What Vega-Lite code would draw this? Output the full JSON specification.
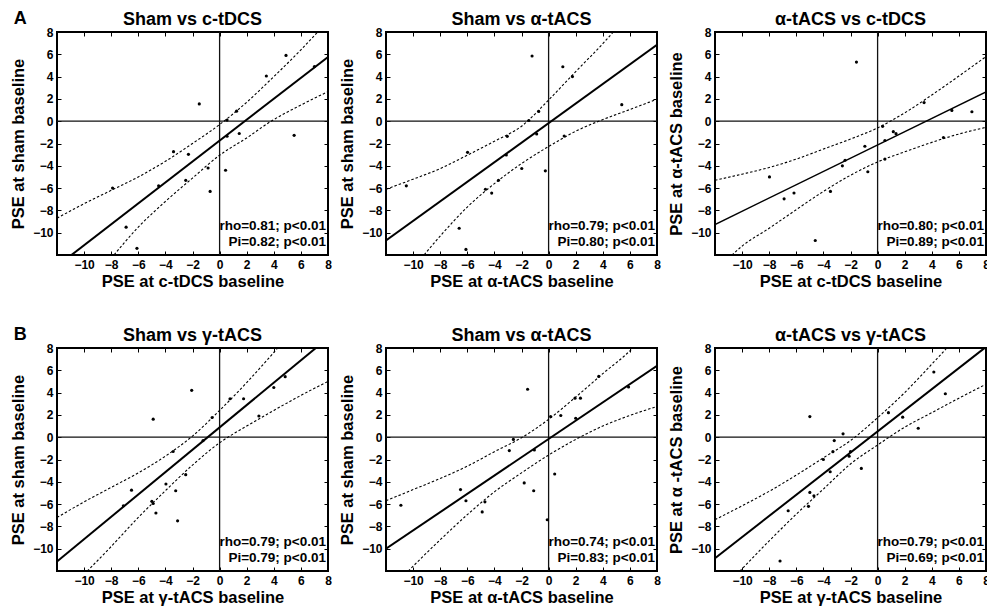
{
"$schema":"https://vega.github.io/schema/vega-lite/v6.json",
"background":"white",
"padding":{"left":9,"top":10,"right":0,"bottom":0},
"spacing":35,
"config":{
 "font":"Liberation Sans",
 "view":{"stroke":"black","strokeWidth":2},
 "axis":{"grid":false,"domain":false,"tickColor":"black","tickSize":-4,"tickWidth":1,"labelPadding":8,"labelFontSize":12,"labelFontWeight":"bold","labelColor":"black","titleFontSize":16.5,"titleFontWeight":"bold","titleColor":"black","labelFlush":false,"labelOverlap":false},
 "axisX":{"titlePadding":3},
 "axisY":{"titlePadding":6},
 "title":{"fontSize":18,"fontWeight":"bold","color":"black","offset":-3}
},
"datasets":{
 "stats":[
  {"panel":"A1","rho":"rho=0.81; p<0.01","pi":"Pi=0.82; p<0.01"},
  {"panel":"A2","rho":"rho=0.79; p<0.01","pi":"Pi=0.80; p<0.01"},
  {"panel":"A3","rho":"rho=0.80; p<0.01","pi":"Pi=0.89; p<0.01"},
  {"panel":"B1","rho":"rho=0.79; p<0.01","pi":"Pi=0.79; p<0.01"},
  {"panel":"B2","rho":"rho=0.74; p<0.01","pi":"Pi=0.83; p<0.01"},
  {"panel":"B3","rho":"rho=0.79; p<0.01","pi":"Pi=0.69; p<0.01"}
 ],
 "fit":[
  {"panel":"A1","x":-12,"y":-13.0},{"panel":"A1","x":8,"y":5.76},
  {"panel":"A2","x":-12,"y":-10.7},{"panel":"A2","x":8,"y":6.85},
  {"panel":"A3","x":-12,"y":-9.27},{"panel":"A3","x":8,"y":2.63},
  {"panel":"B1","x":-12,"y":-11.15},{"panel":"B1","x":8,"y":8.9},
  {"panel":"B2","x":-12,"y":-10.0},{"panel":"B2","x":8,"y":6.4},
  {"panel":"B3","x":-12,"y":-10.85},{"panel":"B3","x":8,"y":8.1}
 ],
 "pts":[
  {"panel":"A1","x":4.9,"y":5.9},{"panel":"A1","x":7.0,"y":4.9},{"panel":"A1","x":3.45,"y":4.05},{"panel":"A1","x":-1.5,"y":1.55},{"panel":"A1","x":1.25,"y":0.9},{"panel":"A1","x":0.55,"y":0.1},{"panel":"A1","x":0.55,"y":-1.35},{"panel":"A1","x":1.45,"y":-1.1},{"panel":"A1","x":5.5,"y":-1.27},{"panel":"A1","x":-3.4,"y":-2.73},{"panel":"A1","x":-2.3,"y":-2.97},{"panel":"A1","x":-0.85,"y":-4.2},{"panel":"A1","x":0.44,"y":-4.4},{"panel":"A1","x":-4.5,"y":-5.8},{"panel":"A1","x":-2.5,"y":-5.3},{"panel":"A1","x":-7.9,"y":-6.0},{"panel":"A1","x":-0.7,"y":-6.3},{"panel":"A1","x":-6.9,"y":-9.5},{"panel":"A1","x":-6.1,"y":-11.4},
  {"panel":"A2","x":-1.22,"y":5.85},{"panel":"A2","x":1.05,"y":4.88},{"panel":"A2","x":1.76,"y":4.0},{"panel":"A2","x":5.4,"y":1.48},{"panel":"A2","x":-0.73,"y":0.88},{"panel":"A2","x":-1.46,"y":0.06},{"panel":"A2","x":-0.88,"y":-1.15},{"panel":"A2","x":1.15,"y":-1.33},{"panel":"A2","x":-3.05,"y":-1.36},{"panel":"A2","x":-5.98,"y":-2.79},{"panel":"A2","x":-3.12,"y":-3.03},{"panel":"A2","x":-1.98,"y":-4.24},{"panel":"A2","x":-0.24,"y":-4.45},{"panel":"A2","x":-3.7,"y":-5.3},{"panel":"A2","x":-4.66,"y":-6.1},{"panel":"A2","x":-4.2,"y":-6.45},{"panel":"A2","x":-10.5,"y":-5.8},{"panel":"A2","x":-6.6,"y":-9.6},{"panel":"A2","x":-6.1,"y":-11.5},
  {"panel":"A3","x":-1.56,"y":5.3},{"panel":"A3","x":3.43,"y":1.67},{"panel":"A3","x":5.48,"y":0.97},{"panel":"A3","x":6.96,"y":0.85},{"panel":"A3","x":0.37,"y":-0.46},{"panel":"A3","x":1.16,"y":-0.94},{"panel":"A3","x":1.36,"y":-1.12},{"panel":"A3","x":0.54,"y":-1.73},{"panel":"A3","x":4.86,"y":-1.46},{"panel":"A3","x":-0.94,"y":-2.25},{"panel":"A3","x":0.54,"y":-3.4},{"panel":"A3","x":-2.4,"y":-3.5},{"panel":"A3","x":-2.6,"y":-4.0},{"panel":"A3","x":-0.72,"y":-4.53},{"panel":"A3","x":-3.48,"y":-6.3},{"panel":"A3","x":-6.17,"y":-6.44},{"panel":"A3","x":-6.9,"y":-6.96},{"panel":"A3","x":-7.98,"y":-5.0},{"panel":"A3","x":-4.6,"y":-10.7},
  {"panel":"B1","x":4.84,"y":5.43},{"panel":"B1","x":4.0,"y":4.46},{"panel":"B1","x":-2.06,"y":4.2},{"panel":"B1","x":0.77,"y":3.45},{"panel":"B1","x":1.77,"y":3.45},{"panel":"B1","x":-4.9,"y":1.62},{"panel":"B1","x":-0.55,"y":1.77},{"panel":"B1","x":2.9,"y":1.9},{"panel":"B1","x":-1.22,"y":-0.3},{"panel":"B1","x":-3.43,"y":-1.28},{"panel":"B1","x":-2.5,"y":-3.36},{"panel":"B1","x":-3.96,"y":-4.2},{"panel":"B1","x":-3.24,"y":-4.8},{"panel":"B1","x":-6.5,"y":-4.75},{"panel":"B1","x":-5.0,"y":-5.75},{"panel":"B1","x":-4.9,"y":-5.95},{"panel":"B1","x":-7.1,"y":-6.15},{"panel":"B1","x":-4.7,"y":-6.8},{"panel":"B1","x":-3.1,"y":-7.5},
  {"panel":"B2","x":-1.55,"y":4.3},{"panel":"B2","x":1.95,"y":3.5},{"panel":"B2","x":2.35,"y":3.5},{"panel":"B2","x":3.7,"y":5.45},{"panel":"B2","x":0.15,"y":1.85},{"panel":"B2","x":0.9,"y":1.95},{"panel":"B2","x":2.0,"y":1.7},{"panel":"B2","x":5.9,"y":4.5},{"panel":"B2","x":-2.6,"y":-0.2},{"panel":"B2","x":-2.9,"y":-1.2},{"panel":"B2","x":-1.05,"y":-1.15},{"panel":"B2","x":0.45,"y":-3.3},{"panel":"B2","x":-1.8,"y":-4.1},{"panel":"B2","x":-1.1,"y":-4.8},{"panel":"B2","x":-6.5,"y":-4.7},{"panel":"B2","x":-6.1,"y":-5.7},{"panel":"B2","x":-4.7,"y":-5.8},{"panel":"B2","x":-4.9,"y":-6.7},{"panel":"B2","x":-10.9,"y":-6.1},{"panel":"B2","x":-0.1,"y":-7.4},
  {"panel":"B3","x":4.15,"y":5.85},{"panel":"B3","x":5.0,"y":3.9},{"panel":"B3","x":-5.0,"y":1.85},{"panel":"B3","x":0.8,"y":2.2},{"panel":"B3","x":1.85,"y":1.8},{"panel":"B3","x":3.0,"y":0.8},{"panel":"B3","x":-2.55,"y":0.3},{"panel":"B3","x":-3.2,"y":-0.3},{"panel":"B3","x":-3.3,"y":-1.3},{"panel":"B3","x":-2.0,"y":-1.3},{"panel":"B3","x":-2.1,"y":-1.7},{"panel":"B3","x":-4.0,"y":-2.0},{"panel":"B3","x":-3.5,"y":-3.1},{"panel":"B3","x":-1.2,"y":-2.8},{"panel":"B3","x":-5.0,"y":-4.95},{"panel":"B3","x":-4.7,"y":-5.25},{"panel":"B3","x":-5.1,"y":-6.2},{"panel":"B3","x":-6.6,"y":-6.6},{"panel":"B3","x":-7.2,"y":-11.1}
 ],
 "band":[
  {"panel":"A1","side":"u","x":-12,"y":-8.7},{"panel":"A1","side":"u","x":-10,"y":-7.4},{"panel":"A1","side":"u","x":-8,"y":-6.2},{"panel":"A1","side":"u","x":-6,"y":-5.0},{"panel":"A1","side":"u","x":-4,"y":-3.6},{"panel":"A1","side":"u","x":-2,"y":-2.0},{"panel":"A1","side":"u","x":0,"y":-0.3},{"panel":"A1","side":"u","x":2,"y":1.7},{"panel":"A1","side":"u","x":4,"y":4.0},{"panel":"A1","side":"u","x":6,"y":6.4},{"panel":"A1","side":"u","x":7.2,"y":7.95},{"panel":"A1","side":"u","x":8,"y":9.0},
  {"panel":"A1","side":"l","x":-8,"y":-12.3},{"panel":"A1","side":"l","x":-6,"y":-9.5},{"panel":"A1","side":"l","x":-4,"y":-7.2},{"panel":"A1","side":"l","x":-2,"y":-5.1},{"panel":"A1","side":"l","x":0,"y":-3.05},{"panel":"A1","side":"l","x":2,"y":-1.5},{"panel":"A1","side":"l","x":3.8,"y":0},{"panel":"A1","side":"l","x":6,"y":1.45},{"panel":"A1","side":"l","x":8,"y":2.65},
  {"panel":"A2","side":"u","x":-12,"y":-6.1},{"panel":"A2","side":"u","x":-10,"y":-5.2},{"panel":"A2","side":"u","x":-8,"y":-4.25},{"panel":"A2","side":"u","x":-6,"y":-3.05},{"panel":"A2","side":"u","x":-4,"y":-1.8},{"panel":"A2","side":"u","x":-2,"y":-0.45},{"panel":"A2","side":"u","x":0,"y":1.9},{"panel":"A2","side":"u","x":2,"y":4.45},{"panel":"A2","side":"u","x":4,"y":6.95},{"panel":"A2","side":"u","x":4.7,"y":7.9},{"panel":"A2","side":"u","x":5.2,"y":8.6},
  {"panel":"A2","side":"l","x":-9.4,"y":-12.3},{"panel":"A2","side":"l","x":-8,"y":-10.3},{"panel":"A2","side":"l","x":-6,"y":-7.7},{"panel":"A2","side":"l","x":-4,"y":-5.6},{"panel":"A2","side":"l","x":-2,"y":-3.8},{"panel":"A2","side":"l","x":0,"y":-2.27},{"panel":"A2","side":"l","x":2,"y":-0.9},{"panel":"A2","side":"l","x":3.7,"y":0},{"panel":"A2","side":"l","x":6,"y":1.05},{"panel":"A2","side":"l","x":8,"y":1.97},
  {"panel":"A3","side":"u","x":-12,"y":-5.3},{"panel":"A3","side":"u","x":-10,"y":-4.75},{"panel":"A3","side":"u","x":-8,"y":-4.15},{"panel":"A3","side":"u","x":-6,"y":-3.4},{"panel":"A3","side":"u","x":-4,"y":-2.5},{"panel":"A3","side":"u","x":-2,"y":-1.6},{"panel":"A3","side":"u","x":0,"y":-0.6},{"panel":"A3","side":"u","x":2,"y":0.75},{"panel":"A3","side":"u","x":4,"y":2.35},{"panel":"A3","side":"u","x":6,"y":4.05},{"panel":"A3","side":"u","x":8,"y":5.8},
  {"panel":"A3","side":"l","x":-11,"y":-12.3},{"panel":"A3","side":"l","x":-10,"y":-11.2},{"panel":"A3","side":"l","x":-8,"y":-9.6},{"panel":"A3","side":"l","x":-6.5,"y":-8.35},{"panel":"A3","side":"l","x":-4,"y":-6.3},{"panel":"A3","side":"l","x":-2,"y":-4.85},{"panel":"A3","side":"l","x":0,"y":-3.65},{"panel":"A3","side":"l","x":2,"y":-2.75},{"panel":"A3","side":"l","x":4,"y":-1.9},{"panel":"A3","side":"l","x":6,"y":-1.15},{"panel":"A3","side":"l","x":8,"y":-0.55},
  {"panel":"B1","side":"u","x":-12,"y":-7.2},{"panel":"B1","side":"u","x":-10,"y":-5.8},{"panel":"B1","side":"u","x":-8,"y":-4.5},{"panel":"B1","side":"u","x":-6,"y":-3.2},{"panel":"B1","side":"u","x":-4,"y":-1.7},{"panel":"B1","side":"u","x":-2,"y":0.1},{"panel":"B1","side":"u","x":0,"y":2.4},{"panel":"B1","side":"u","x":2,"y":4.9},{"panel":"B1","side":"u","x":4,"y":7.6},{"panel":"B1","side":"u","x":4.5,"y":8.3},
  {"panel":"B1","side":"l","x":-10,"y":-12.3},{"panel":"B1","side":"l","x":-8,"y":-9.8},{"panel":"B1","side":"l","x":-6,"y":-7.2},{"panel":"B1","side":"l","x":-4,"y":-4.8},{"panel":"B1","side":"l","x":-2,"y":-2.5},{"panel":"B1","side":"l","x":0,"y":-0.5},{"panel":"B1","side":"l","x":2,"y":1.0},{"panel":"B1","side":"l","x":4,"y":2.4},{"panel":"B1","side":"l","x":6,"y":3.75},{"panel":"B1","side":"l","x":8,"y":5.0},
  {"panel":"B2","side":"u","x":-12,"y":-5.7},{"panel":"B2","side":"u","x":-10,"y":-4.7},{"panel":"B2","side":"u","x":-8,"y":-3.7},{"panel":"B2","side":"u","x":-6,"y":-2.6},{"panel":"B2","side":"u","x":-4,"y":-1.3},{"panel":"B2","side":"u","x":-2,"y":-0.05},{"panel":"B2","side":"u","x":0,"y":1.6},{"panel":"B2","side":"u","x":2,"y":3.6},{"panel":"B2","side":"u","x":4,"y":5.7},{"panel":"B2","side":"u","x":6.2,"y":8.0},{"panel":"B2","side":"u","x":6.5,"y":8.4},
  {"panel":"B2","side":"l","x":-10.6,"y":-12.3},{"panel":"B2","side":"l","x":-8,"y":-9.2},{"panel":"B2","side":"l","x":-6,"y":-6.95},{"panel":"B2","side":"l","x":-4,"y":-4.9},{"panel":"B2","side":"l","x":-2,"y":-3.2},{"panel":"B2","side":"l","x":0,"y":-1.6},{"panel":"B2","side":"l","x":2,"y":-0.2},{"panel":"B2","side":"l","x":4,"y":1.0},{"panel":"B2","side":"l","x":6,"y":1.95},{"panel":"B2","side":"l","x":8,"y":2.75},
  {"panel":"B3","side":"u","x":-12,"y":-7.4},{"panel":"B3","side":"u","x":-10,"y":-6.15},{"panel":"B3","side":"u","x":-8,"y":-4.85},{"panel":"B3","side":"u","x":-6,"y":-3.4},{"panel":"B3","side":"u","x":-4,"y":-1.85},{"panel":"B3","side":"u","x":-2,"y":-0.3},{"panel":"B3","side":"u","x":0,"y":1.75},{"panel":"B3","side":"u","x":2,"y":4.0},{"panel":"B3","side":"u","x":4,"y":6.55},{"panel":"B3","side":"u","x":5.1,"y":8.0},{"panel":"B3","side":"u","x":5.5,"y":8.6},
  {"panel":"B3","side":"l","x":-10.4,"y":-12.3},{"panel":"B3","side":"l","x":-8,"y":-9.3},{"panel":"B3","side":"l","x":-6,"y":-6.9},{"panel":"B3","side":"l","x":-4,"y":-4.65},{"panel":"B3","side":"l","x":-2,"y":-2.4},{"panel":"B3","side":"l","x":0,"y":-0.7},{"panel":"B3","side":"l","x":2,"y":0.9},{"panel":"B3","side":"l","x":4,"y":2.2},{"panel":"B3","side":"l","x":6,"y":3.5},{"panel":"B3","side":"l","x":8,"y":4.75}
 ]
},
"vconcat":[
 {"hconcat":[
  {"width":271,"height":223,"title":"Sham vs c-tDCS","resolve":{"axis":{"x":"independent","y":"independent"}},
   "layer":[
    {"data":{"name":"stats"},"transform":[{"filter":"datum.panel==='A1'"}],"mark":{"type":"rule","color":"#111","strokeWidth":1.3},"encoding":{"x":{"datum":0,"type":"quantitative","scale":{"domain":[-12,8],"nice":false,"zero":false},"axis":null}}},
    {"data":{"name":"stats"},"transform":[{"filter":"datum.panel==='A1'"}],"mark":{"type":"rule","color":"#111","strokeWidth":1.3},"encoding":{"y":{"datum":0,"type":"quantitative","scale":{"domain":[-12,8],"nice":false,"zero":false},"axis":null}}},
    {"data":{"name":"band"},"transform":[{"filter":"datum.panel==='A1'"}],"mark":{"type":"line","clip":true,"color":"black","strokeWidth":1.1,"strokeDash":[2.5,2],"interpolate":"monotone"},
     "encoding":{"x":{"field":"x","type":"quantitative","scale":{"domain":[-12,8],"nice":false,"zero":false},"axis":{"orient":"bottom","title":"PSE at c-tDCS baseline","values":[-10,-8,-6,-4,-2,0,2,4,6,8]}},
      "y":{"field":"y","type":"quantitative","scale":{"domain":[-12,8],"nice":false,"zero":false},"axis":{"orient":"left","title":"PSE at sham baseline","values":[-10,-8,-6,-4,-2,0,2,4,6,8]}},"detail":{"field":"side"}}},
    {"data":{"name":"fit"},"transform":[{"filter":"datum.panel==='A1'"}],"mark":{"type":"line","clip":true,"color":"black","strokeWidth":2},
     "encoding":{"x":{"field":"x","type":"quantitative","scale":{"domain":[-12,8],"nice":false,"zero":false},"axis":{"orient":"top","labels":false,"title":null,"values":[-10,-8,-6,-4,-2,0,2,4,6,8]}},
      "y":{"field":"y","type":"quantitative","scale":{"domain":[-12,8],"nice":false,"zero":false},"axis":{"orient":"right","labels":false,"title":null,"values":[-10,-8,-6,-4,-2,0,2,4,6,8]}}}},
    {"data":{"name":"pts"},"transform":[{"filter":"datum.panel==='A1'"}],"mark":{"type":"circle","clip":true,"color":"black","size":10,"opacity":1},
     "encoding":{"x":{"field":"x","type":"quantitative","scale":{"domain":[-12,8],"nice":false,"zero":false},"axis":null},"y":{"field":"y","type":"quantitative","scale":{"domain":[-12,8],"nice":false,"zero":false},"axis":null}}},
    {"data":{"name":"stats"},"transform":[{"filter":"datum.panel==='A1'"}],"mark":{"type":"text","align":"right","baseline":"middle","dx":-2,"fontSize":13.5,"fontWeight":"bold","color":"black"},
     "encoding":{"x":{"datum":8,"type":"quantitative","scale":{"domain":[-12,8],"nice":false,"zero":false},"axis":null},"y":{"datum":-9.4,"type":"quantitative","scale":{"domain":[-12,8],"nice":false,"zero":false},"axis":null},"text":{"field":"rho"}}},
    {"data":{"name":"stats"},"transform":[{"filter":"datum.panel==='A1'"}],"mark":{"type":"text","align":"right","baseline":"middle","dx":-2,"fontSize":13.5,"fontWeight":"bold","color":"black"},
     "encoding":{"x":{"datum":8,"type":"quantitative","scale":{"domain":[-12,8],"nice":false,"zero":false},"axis":null},"y":{"datum":-10.8,"type":"quantitative","scale":{"domain":[-12,8],"nice":false,"zero":false},"axis":null},"text":{"field":"pi"}}}
   ]},
  {"width":271,"height":223,"title":"Sham vs α-tACS","resolve":{"axis":{"x":"independent","y":"independent"}},
   "layer":[
    {"data":{"name":"stats"},"transform":[{"filter":"datum.panel==='A2'"}],"mark":{"type":"rule","color":"#111","strokeWidth":1.3},"encoding":{"x":{"datum":0,"type":"quantitative","scale":{"domain":[-12,8],"nice":false,"zero":false},"axis":null}}},
    {"data":{"name":"stats"},"transform":[{"filter":"datum.panel==='A2'"}],"mark":{"type":"rule","color":"#111","strokeWidth":1.3},"encoding":{"y":{"datum":0,"type":"quantitative","scale":{"domain":[-12,8],"nice":false,"zero":false},"axis":null}}},
    {"data":{"name":"band"},"transform":[{"filter":"datum.panel==='A2'"}],"mark":{"type":"line","clip":true,"color":"black","strokeWidth":1.1,"strokeDash":[2.5,2],"interpolate":"monotone"},
     "encoding":{"x":{"field":"x","type":"quantitative","scale":{"domain":[-12,8],"nice":false,"zero":false},"axis":{"orient":"bottom","title":"PSE at α-tACS baseline","values":[-10,-8,-6,-4,-2,0,2,4,6,8]}},
      "y":{"field":"y","type":"quantitative","scale":{"domain":[-12,8],"nice":false,"zero":false},"axis":{"orient":"left","title":"PSE at sham baseline","values":[-10,-8,-6,-4,-2,0,2,4,6,8]}},"detail":{"field":"side"}}},
    {"data":{"name":"fit"},"transform":[{"filter":"datum.panel==='A2'"}],"mark":{"type":"line","clip":true,"color":"black","strokeWidth":2},
     "encoding":{"x":{"field":"x","type":"quantitative","scale":{"domain":[-12,8],"nice":false,"zero":false},"axis":{"orient":"top","labels":false,"title":null,"values":[-10,-8,-6,-4,-2,0,2,4,6,8]}},
      "y":{"field":"y","type":"quantitative","scale":{"domain":[-12,8],"nice":false,"zero":false},"axis":{"orient":"right","labels":false,"title":null,"values":[-10,-8,-6,-4,-2,0,2,4,6,8]}}}},
    {"data":{"name":"pts"},"transform":[{"filter":"datum.panel==='A2'"}],"mark":{"type":"circle","clip":true,"color":"black","size":10,"opacity":1},
     "encoding":{"x":{"field":"x","type":"quantitative","scale":{"domain":[-12,8],"nice":false,"zero":false},"axis":null},"y":{"field":"y","type":"quantitative","scale":{"domain":[-12,8],"nice":false,"zero":false},"axis":null}}},
    {"data":{"name":"stats"},"transform":[{"filter":"datum.panel==='A2'"}],"mark":{"type":"text","align":"right","baseline":"middle","dx":-2,"fontSize":13.5,"fontWeight":"bold","color":"black"},
     "encoding":{"x":{"datum":8,"type":"quantitative","scale":{"domain":[-12,8],"nice":false,"zero":false},"axis":null},"y":{"datum":-9.4,"type":"quantitative","scale":{"domain":[-12,8],"nice":false,"zero":false},"axis":null},"text":{"field":"rho"}}},
    {"data":{"name":"stats"},"transform":[{"filter":"datum.panel==='A2'"}],"mark":{"type":"text","align":"right","baseline":"middle","dx":-2,"fontSize":13.5,"fontWeight":"bold","color":"black"},
     "encoding":{"x":{"datum":8,"type":"quantitative","scale":{"domain":[-12,8],"nice":false,"zero":false},"axis":null},"y":{"datum":-10.8,"type":"quantitative","scale":{"domain":[-12,8],"nice":false,"zero":false},"axis":null},"text":{"field":"pi"}}}
   ]},
  {"width":271,"height":223,"title":"α-tACS vs c-tDCS","resolve":{"axis":{"x":"independent","y":"independent"}},
   "layer":[
    {"data":{"name":"stats"},"transform":[{"filter":"datum.panel==='A3'"}],"mark":{"type":"rule","color":"#111","strokeWidth":1.3},"encoding":{"x":{"datum":0,"type":"quantitative","scale":{"domain":[-12,8],"nice":false,"zero":false},"axis":null}}},
    {"data":{"name":"stats"},"transform":[{"filter":"datum.panel==='A3'"}],"mark":{"type":"rule","color":"#111","strokeWidth":1.3},"encoding":{"y":{"datum":0,"type":"quantitative","scale":{"domain":[-12,8],"nice":false,"zero":false},"axis":null}}},
    {"data":{"name":"band"},"transform":[{"filter":"datum.panel==='A3'"}],"mark":{"type":"line","clip":true,"color":"black","strokeWidth":1.1,"strokeDash":[2.5,2],"interpolate":"monotone"},
     "encoding":{"x":{"field":"x","type":"quantitative","scale":{"domain":[-12,8],"nice":false,"zero":false},"axis":{"orient":"bottom","title":"PSE at c-tDCS baseline","values":[-10,-8,-6,-4,-2,0,2,4,6,8]}},
      "y":{"field":"y","type":"quantitative","scale":{"domain":[-12,8],"nice":false,"zero":false},"axis":{"orient":"left","title":"PSE at α-tACS baseline","values":[-10,-8,-6,-4,-2,0,2,4,6,8]}},"detail":{"field":"side"}}},
    {"data":{"name":"fit"},"transform":[{"filter":"datum.panel==='A3'"}],"mark":{"type":"line","clip":true,"color":"black","strokeWidth":1.4},
     "encoding":{"x":{"field":"x","type":"quantitative","scale":{"domain":[-12,8],"nice":false,"zero":false},"axis":{"orient":"top","labels":false,"title":null,"values":[-10,-8,-6,-4,-2,0,2,4,6,8]}},
      "y":{"field":"y","type":"quantitative","scale":{"domain":[-12,8],"nice":false,"zero":false},"axis":{"orient":"right","labels":false,"title":null,"values":[-10,-8,-6,-4,-2,0,2,4,6,8]}}}},
    {"data":{"name":"pts"},"transform":[{"filter":"datum.panel==='A3'"}],"mark":{"type":"circle","clip":true,"color":"black","size":10,"opacity":1},
     "encoding":{"x":{"field":"x","type":"quantitative","scale":{"domain":[-12,8],"nice":false,"zero":false},"axis":null},"y":{"field":"y","type":"quantitative","scale":{"domain":[-12,8],"nice":false,"zero":false},"axis":null}}},
    {"data":{"name":"stats"},"transform":[{"filter":"datum.panel==='A3'"}],"mark":{"type":"text","align":"right","baseline":"middle","dx":-2,"fontSize":13.5,"fontWeight":"bold","color":"black"},
     "encoding":{"x":{"datum":8,"type":"quantitative","scale":{"domain":[-12,8],"nice":false,"zero":false},"axis":null},"y":{"datum":-9.4,"type":"quantitative","scale":{"domain":[-12,8],"nice":false,"zero":false},"axis":null},"text":{"field":"rho"}}},
    {"data":{"name":"stats"},"transform":[{"filter":"datum.panel==='A3'"}],"mark":{"type":"text","align":"right","baseline":"middle","dx":-2,"fontSize":13.5,"fontWeight":"bold","color":"black"},
     "encoding":{"x":{"datum":8,"type":"quantitative","scale":{"domain":[-12,8],"nice":false,"zero":false},"axis":null},"y":{"datum":-10.8,"type":"quantitative","scale":{"domain":[-12,8],"nice":false,"zero":false},"axis":null},"text":{"field":"pi"}}}
   ]}
 ],"spacing":58,"bounds":"flush","title":{"text":"A","anchor":"start","frame":"bounds","offset":-18,"dx":4,"fontSize":18}},
 {"hconcat":[
  {"width":271,"height":223,"title":"Sham vs γ-tACS","resolve":{"axis":{"x":"independent","y":"independent"}},
   "layer":[
    {"data":{"name":"stats"},"transform":[{"filter":"datum.panel==='B1'"}],"mark":{"type":"rule","color":"#111","strokeWidth":1.3},"encoding":{"x":{"datum":0,"type":"quantitative","scale":{"domain":[-12,8],"nice":false,"zero":false},"axis":null}}},
    {"data":{"name":"stats"},"transform":[{"filter":"datum.panel==='B1'"}],"mark":{"type":"rule","color":"#111","strokeWidth":1.3},"encoding":{"y":{"datum":0,"type":"quantitative","scale":{"domain":[-12,8],"nice":false,"zero":false},"axis":null}}},
    {"data":{"name":"band"},"transform":[{"filter":"datum.panel==='B1'"}],"mark":{"type":"line","clip":true,"color":"black","strokeWidth":1.1,"strokeDash":[2.5,2],"interpolate":"monotone"},
     "encoding":{"x":{"field":"x","type":"quantitative","scale":{"domain":[-12,8],"nice":false,"zero":false},"axis":{"orient":"bottom","title":"PSE at γ-tACS baseline","values":[-10,-8,-6,-4,-2,0,2,4,6,8]}},
      "y":{"field":"y","type":"quantitative","scale":{"domain":[-12,8],"nice":false,"zero":false},"axis":{"orient":"left","title":"PSE at sham baseline","values":[-10,-8,-6,-4,-2,0,2,4,6,8]}},"detail":{"field":"side"}}},
    {"data":{"name":"fit"},"transform":[{"filter":"datum.panel==='B1'"}],"mark":{"type":"line","clip":true,"color":"black","strokeWidth":2},
     "encoding":{"x":{"field":"x","type":"quantitative","scale":{"domain":[-12,8],"nice":false,"zero":false},"axis":{"orient":"top","labels":false,"title":null,"values":[-10,-8,-6,-4,-2,0,2,4,6,8]}},
      "y":{"field":"y","type":"quantitative","scale":{"domain":[-12,8],"nice":false,"zero":false},"axis":{"orient":"right","labels":false,"title":null,"values":[-10,-8,-6,-4,-2,0,2,4,6,8]}}}},
    {"data":{"name":"pts"},"transform":[{"filter":"datum.panel==='B1'"}],"mark":{"type":"circle","clip":true,"color":"black","size":10,"opacity":1},
     "encoding":{"x":{"field":"x","type":"quantitative","scale":{"domain":[-12,8],"nice":false,"zero":false},"axis":null},"y":{"field":"y","type":"quantitative","scale":{"domain":[-12,8],"nice":false,"zero":false},"axis":null}}},
    {"data":{"name":"stats"},"transform":[{"filter":"datum.panel==='B1'"}],"mark":{"type":"text","align":"right","baseline":"middle","dx":-2,"fontSize":13.5,"fontWeight":"bold","color":"black"},
     "encoding":{"x":{"datum":8,"type":"quantitative","scale":{"domain":[-12,8],"nice":false,"zero":false},"axis":null},"y":{"datum":-9.4,"type":"quantitative","scale":{"domain":[-12,8],"nice":false,"zero":false},"axis":null},"text":{"field":"rho"}}},
    {"data":{"name":"stats"},"transform":[{"filter":"datum.panel==='B1'"}],"mark":{"type":"text","align":"right","baseline":"middle","dx":-2,"fontSize":13.5,"fontWeight":"bold","color":"black"},
     "encoding":{"x":{"datum":8,"type":"quantitative","scale":{"domain":[-12,8],"nice":false,"zero":false},"axis":null},"y":{"datum":-10.8,"type":"quantitative","scale":{"domain":[-12,8],"nice":false,"zero":false},"axis":null},"text":{"field":"pi"}}}
   ]},
  {"width":271,"height":223,"title":"Sham vs α-tACS","resolve":{"axis":{"x":"independent","y":"independent"}},
   "layer":[
    {"data":{"name":"stats"},"transform":[{"filter":"datum.panel==='B2'"}],"mark":{"type":"rule","color":"#111","strokeWidth":1.3},"encoding":{"x":{"datum":0,"type":"quantitative","scale":{"domain":[-12,8],"nice":false,"zero":false},"axis":null}}},
    {"data":{"name":"stats"},"transform":[{"filter":"datum.panel==='B2'"}],"mark":{"type":"rule","color":"#111","strokeWidth":1.3},"encoding":{"y":{"datum":0,"type":"quantitative","scale":{"domain":[-12,8],"nice":false,"zero":false},"axis":null}}},
    {"data":{"name":"band"},"transform":[{"filter":"datum.panel==='B2'"}],"mark":{"type":"line","clip":true,"color":"black","strokeWidth":1.1,"strokeDash":[2.5,2],"interpolate":"monotone"},
     "encoding":{"x":{"field":"x","type":"quantitative","scale":{"domain":[-12,8],"nice":false,"zero":false},"axis":{"orient":"bottom","title":"PSE at α-tACS baseline","values":[-10,-8,-6,-4,-2,0,2,4,6,8]}},
      "y":{"field":"y","type":"quantitative","scale":{"domain":[-12,8],"nice":false,"zero":false},"axis":{"orient":"left","title":"PSE at sham baseline","values":[-10,-8,-6,-4,-2,0,2,4,6,8]}},"detail":{"field":"side"}}},
    {"data":{"name":"fit"},"transform":[{"filter":"datum.panel==='B2'"}],"mark":{"type":"line","clip":true,"color":"black","strokeWidth":2},
     "encoding":{"x":{"field":"x","type":"quantitative","scale":{"domain":[-12,8],"nice":false,"zero":false},"axis":{"orient":"top","labels":false,"title":null,"values":[-10,-8,-6,-4,-2,0,2,4,6,8]}},
      "y":{"field":"y","type":"quantitative","scale":{"domain":[-12,8],"nice":false,"zero":false},"axis":{"orient":"right","labels":false,"title":null,"values":[-10,-8,-6,-4,-2,0,2,4,6,8]}}}},
    {"data":{"name":"pts"},"transform":[{"filter":"datum.panel==='B2'"}],"mark":{"type":"circle","clip":true,"color":"black","size":10,"opacity":1},
     "encoding":{"x":{"field":"x","type":"quantitative","scale":{"domain":[-12,8],"nice":false,"zero":false},"axis":null},"y":{"field":"y","type":"quantitative","scale":{"domain":[-12,8],"nice":false,"zero":false},"axis":null}}},
    {"data":{"name":"stats"},"transform":[{"filter":"datum.panel==='B2'"}],"mark":{"type":"text","align":"right","baseline":"middle","dx":-2,"fontSize":13.5,"fontWeight":"bold","color":"black"},
     "encoding":{"x":{"datum":8,"type":"quantitative","scale":{"domain":[-12,8],"nice":false,"zero":false},"axis":null},"y":{"datum":-9.4,"type":"quantitative","scale":{"domain":[-12,8],"nice":false,"zero":false},"axis":null},"text":{"field":"rho"}}},
    {"data":{"name":"stats"},"transform":[{"filter":"datum.panel==='B2'"}],"mark":{"type":"text","align":"right","baseline":"middle","dx":-2,"fontSize":13.5,"fontWeight":"bold","color":"black"},
     "encoding":{"x":{"datum":8,"type":"quantitative","scale":{"domain":[-12,8],"nice":false,"zero":false},"axis":null},"y":{"datum":-10.8,"type":"quantitative","scale":{"domain":[-12,8],"nice":false,"zero":false},"axis":null},"text":{"field":"pi"}}}
   ]},
  {"width":271,"height":223,"title":"α-tACS vs γ-tACS","resolve":{"axis":{"x":"independent","y":"independent"}},
   "layer":[
    {"data":{"name":"stats"},"transform":[{"filter":"datum.panel==='B3'"}],"mark":{"type":"rule","color":"#111","strokeWidth":1.3},"encoding":{"x":{"datum":0,"type":"quantitative","scale":{"domain":[-12,8],"nice":false,"zero":false},"axis":null}}},
    {"data":{"name":"stats"},"transform":[{"filter":"datum.panel==='B3'"}],"mark":{"type":"rule","color":"#111","strokeWidth":1.3},"encoding":{"y":{"datum":0,"type":"quantitative","scale":{"domain":[-12,8],"nice":false,"zero":false},"axis":null}}},
    {"data":{"name":"band"},"transform":[{"filter":"datum.panel==='B3'"}],"mark":{"type":"line","clip":true,"color":"black","strokeWidth":1.1,"strokeDash":[2.5,2],"interpolate":"monotone"},
     "encoding":{"x":{"field":"x","type":"quantitative","scale":{"domain":[-12,8],"nice":false,"zero":false},"axis":{"orient":"bottom","title":"PSE at γ-tACS baseline","values":[-10,-8,-6,-4,-2,0,2,4,6,8]}},
      "y":{"field":"y","type":"quantitative","scale":{"domain":[-12,8],"nice":false,"zero":false},"axis":{"orient":"left","title":"PSE at α -tACS baseline","values":[-10,-8,-6,-4,-2,0,2,4,6,8]}},"detail":{"field":"side"}}},
    {"data":{"name":"fit"},"transform":[{"filter":"datum.panel==='B3'"}],"mark":{"type":"line","clip":true,"color":"black","strokeWidth":2},
     "encoding":{"x":{"field":"x","type":"quantitative","scale":{"domain":[-12,8],"nice":false,"zero":false},"axis":{"orient":"top","labels":false,"title":null,"values":[-10,-8,-6,-4,-2,0,2,4,6,8]}},
      "y":{"field":"y","type":"quantitative","scale":{"domain":[-12,8],"nice":false,"zero":false},"axis":{"orient":"right","labels":false,"title":null,"values":[-10,-8,-6,-4,-2,0,2,4,6,8]}}}},
    {"data":{"name":"pts"},"transform":[{"filter":"datum.panel==='B3'"}],"mark":{"type":"circle","clip":true,"color":"black","size":10,"opacity":1},
     "encoding":{"x":{"field":"x","type":"quantitative","scale":{"domain":[-12,8],"nice":false,"zero":false},"axis":null},"y":{"field":"y","type":"quantitative","scale":{"domain":[-12,8],"nice":false,"zero":false},"axis":null}}},
    {"data":{"name":"stats"},"transform":[{"filter":"datum.panel==='B3'"}],"mark":{"type":"text","align":"right","baseline":"middle","dx":-2,"fontSize":13.5,"fontWeight":"bold","color":"black"},
     "encoding":{"x":{"datum":8,"type":"quantitative","scale":{"domain":[-12,8],"nice":false,"zero":false},"axis":null},"y":{"datum":-9.4,"type":"quantitative","scale":{"domain":[-12,8],"nice":false,"zero":false},"axis":null},"text":{"field":"rho"}}},
    {"data":{"name":"stats"},"transform":[{"filter":"datum.panel==='B3'"}],"mark":{"type":"text","align":"right","baseline":"middle","dx":-2,"fontSize":13.5,"fontWeight":"bold","color":"black"},
     "encoding":{"x":{"datum":8,"type":"quantitative","scale":{"domain":[-12,8],"nice":false,"zero":false},"axis":null},"y":{"datum":-10.8,"type":"quantitative","scale":{"domain":[-12,8],"nice":false,"zero":false},"axis":null},"text":{"field":"pi"}}}
   ]}
 ],"spacing":58,"bounds":"flush","title":{"text":"B","anchor":"start","frame":"bounds","offset":-18,"dx":4,"fontSize":18}}
]
}
